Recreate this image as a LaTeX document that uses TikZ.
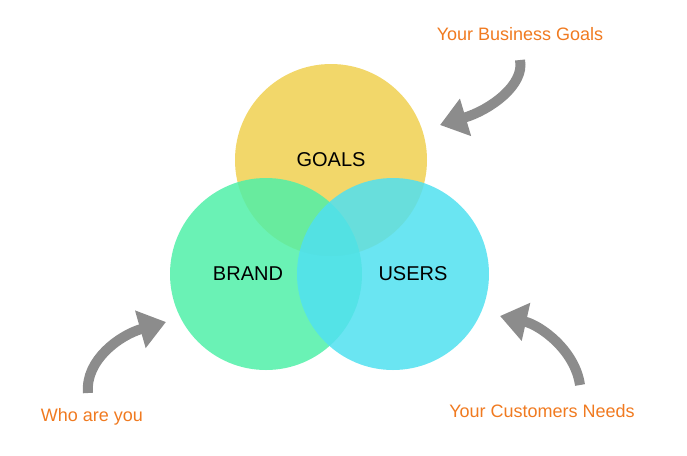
\documentclass[tikz,border=0pt]{standalone}
\usepackage{fontspec}
\setmainfont{Liberation Sans}
\usetikzlibrary{arrows.meta}
\definecolor{goalcol}{HTML}{F0D050}
\definecolor{brandcol}{HTML}{50F0A8}
\definecolor{usercol}{HTML}{50E0F0}
\definecolor{notecol}{HTML}{F07A20}
\definecolor{arrowcol}{HTML}{8C8C8C}
\tikzset{
    setcircle/.style = {circle, fill=#1, fill opacity=0.85, text opacity=1,
      minimum size=144pt, inner sep=0pt},
    setlabel/.style = {font=\fontsize{15}{18}\selectfont, text=black},
    note/.style = {font=\fontsize{13.5}{16}\selectfont, text=notecol},
    bigarrow/.style = {draw=arrowcol, line width=7.5pt,
      -{Triangle[length=20pt,width=28pt]}}}
\begin{document}
\begin{tikzpicture}[x=0.75pt,y=-0.75pt]
        \useasboundingbox (0,0) rectangle (687,455);
        \node[setcircle=goalcol] (G) at (331,160) {};
        \node[setcircle=brandcol] (B) at (266,274) {};
        \node[setcircle=usercol] (U) at (393,274) {};
        \node[setlabel] (Gt) at (331,160) {GOALS};
        \node[setlabel] (Bt) at (248,274) {BRAND};
        \node[setlabel] (Ut) at (413,274) {USERS};
        % notes and their arrows
        \node[note] (N1) at (520,34) {Your Business Goals};
        \node[note] (N2) at (92,417) {Who are you};
        \node[note] (N3) at (542,411) {Your Customers Needs};
        \coordinate (A1s) at (520,60);
        \coordinate (A1e) at (440,125);
        \coordinate (A2s) at (88,393);
        \coordinate (A2e) at (166,322);
        \coordinate (A3s) at (580,385);
        \coordinate (A3e) at (500,316);
        \draw[bigarrow] (A1s) .. controls (525,85) and (490,110) .. (A1e);
        \draw[bigarrow] (A2s) .. controls (85,360) and (120,335) .. (A2e);
        \draw[bigarrow] (A3s) .. controls (575,350) and (540,325) .. (A3e);
\end{tikzpicture}
\end{document}
